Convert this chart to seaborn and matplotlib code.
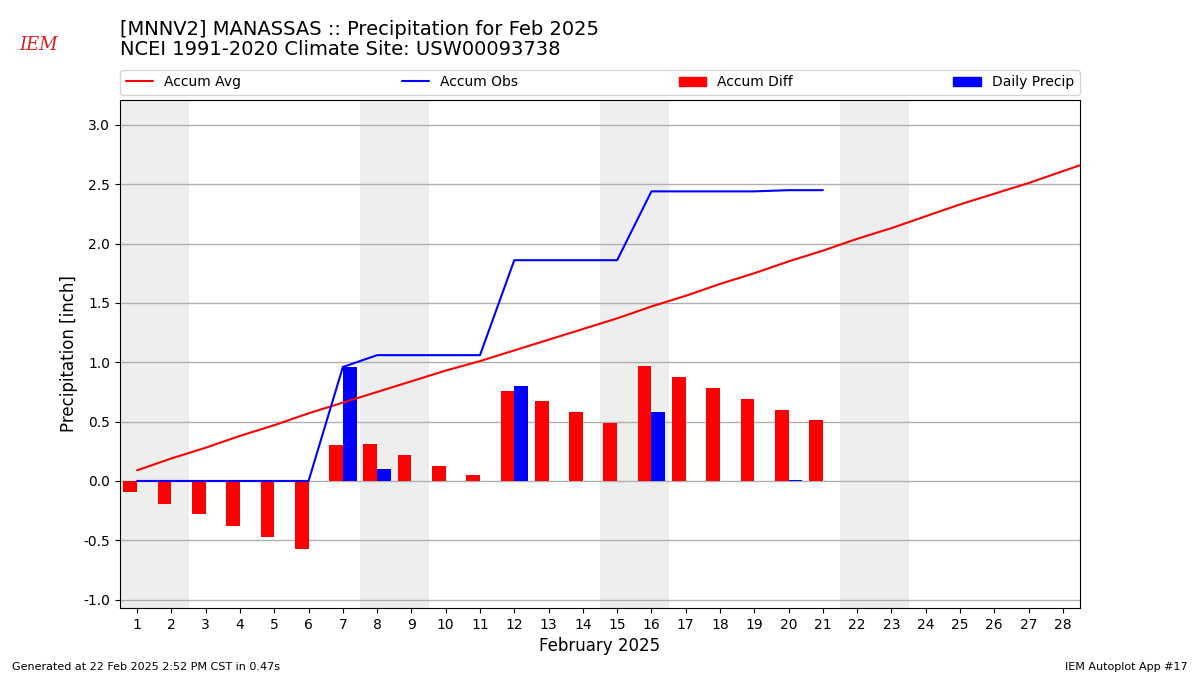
import pandas as pd
import matplotlib
matplotlib.use('Agg')
import matplotlib.pyplot as plt
from matplotlib.lines import Line2D
from matplotlib.patches import Patch
import seaborn as sns

# data (inches)
days_month = list(range(1, 29))
# the average line runs on past the month end (clipped at the axes edge)
days_avg = list(range(1, 30))
accum_avg = [0.09, 0.19, 0.28, 0.38, 0.47, 0.57, 0.66, 0.75, 0.84, 0.93,
             1.01, 1.10, 1.19, 1.28, 1.37, 1.47, 1.56, 1.66, 1.75, 1.85,
             1.94, 2.04, 2.13, 2.23, 2.33, 2.42, 2.51, 2.61, 2.71]
days_obs = list(range(1, 22))
accum_obs = [0, 0, 0, 0, 0, 0, 0.96, 1.06, 1.06, 1.06,
             1.06, 1.86, 1.86, 1.86, 1.86, 2.44, 2.44, 2.44, 2.44, 2.45, 2.45]
accum_diff = [-0.09, -0.19, -0.28, -0.38, -0.47, -0.57, 0.30, 0.31, 0.22, 0.13,
              0.05, 0.76, 0.67, 0.58, 0.49, 0.97, 0.88, 0.78, 0.69, 0.60, 0.51]
daily_precip = [0, 0, 0, 0, 0, 0, 0.96, 0.10, 0, 0,
                0, 0.80, 0, 0, 0, 0.58, 0, 0, 0, 0.01, 0]
weekends = [(1, 2), (8, 9), (15, 16), (22, 23)]

sns.set_style('ticks')
plt.rcParams['font.family'] = ['DejaVu Sans']
plt.rcParams['xtick.major.size'] = 3.5
plt.rcParams['ytick.major.size'] = 3.5
for k in ['axes.edgecolor', 'text.color', 'axes.labelcolor', 'xtick.color', 'ytick.color']:
    plt.rcParams[k] = 'black'

fig = plt.figure(figsize=(12, 6.75), dpi=100)
ax = fig.add_axes([0.1, 0.0993, 0.8, 0.7526])

for a, b in weekends:
    ax.axvspan(a - 0.5, b + 0.5, color='#EEEEEE', zorder=0, lw=0)

bars = pd.DataFrame({
    'day': days_obs * 2,
    'value': accum_diff + daily_precip,
    'kind': ['Accum Diff'] * len(days_obs) + ['Daily Precip'] * len(days_obs),
})
sns.barplot(data=bars, x='day', y='value', hue='kind', native_scale=True,
            width=0.8, dodge=True, palette={'Accum Diff': 'r', 'Daily Precip': 'b'},
            saturation=1, errorbar=None, linewidth=0, legend=False, ax=ax, zorder=2)

sns.lineplot(x=days_avg, y=accum_avg, color='r', lw=1.5, ax=ax, zorder=3)
sns.lineplot(x=days_obs, y=accum_obs, color='b', lw=1.5, ax=ax, zorder=3)

ax.set_xlim(0.5, 28.5)
ax.set_ylim(-1.07, 3.21)
ax.set_xticks(days_month)
ax.set_xticklabels([str(d) for d in days_month])
ax.set_yticks([-1.0, -0.5, 0, 0.5, 1.0, 1.5, 2.0, 2.5, 3.0])
ax.set_yticklabels(['-1.0', '-0.5', '0.0', '0.5', '1.0', '1.5', '2.0', '2.5', '3.0'])
ax.tick_params(labelsize=10)
ax.yaxis.grid(True, color='#b0b0b0', lw=1, zorder=1)
ax.set_axisbelow(True)
ax.set_xlabel('February 2025', fontsize=12)
ax.set_ylabel('Precipitation [inch]', fontsize=12)
for s in ax.spines.values():
    s.set_visible(True)
    s.set_color('black')

handles = [Line2D([], [], color='r', lw=1.5), Line2D([], [], color='b', lw=1.5),
           Patch(color='r'), Patch(color='b')]
ax.legend(handles, ['Accum Avg', 'Accum Obs', 'Accum Diff', 'Daily Precip'],
          loc='lower left', bbox_to_anchor=(0, 1.01, 1, 0.05), ncol=4,
          mode='expand', borderaxespad=0, fontsize=10, frameon=True)

fig.text(0.1, 0.957, '[MNNV2] MANASSAS :: Precipitation for Feb 2025', fontsize=14,
         va='center')
fig.text(0.1, 0.926, 'NCEI 1991-2020 Climate Site: USW00093738', fontsize=14,
         va='center')
fig.text(0.032, 0.933, 'IEM', fontsize=13, color='#d62020', family='serif',
         style='italic', ha='center', va='center')
fig.text(0.01, 0.007, 'Generated at 22 Feb 2025 2:52 PM CST in 0.47s', fontsize=8)
fig.text(0.99, 0.007, 'IEM Autoplot App #17', fontsize=8, ha='right')

fig.savefig('out.png', dpi=100)
